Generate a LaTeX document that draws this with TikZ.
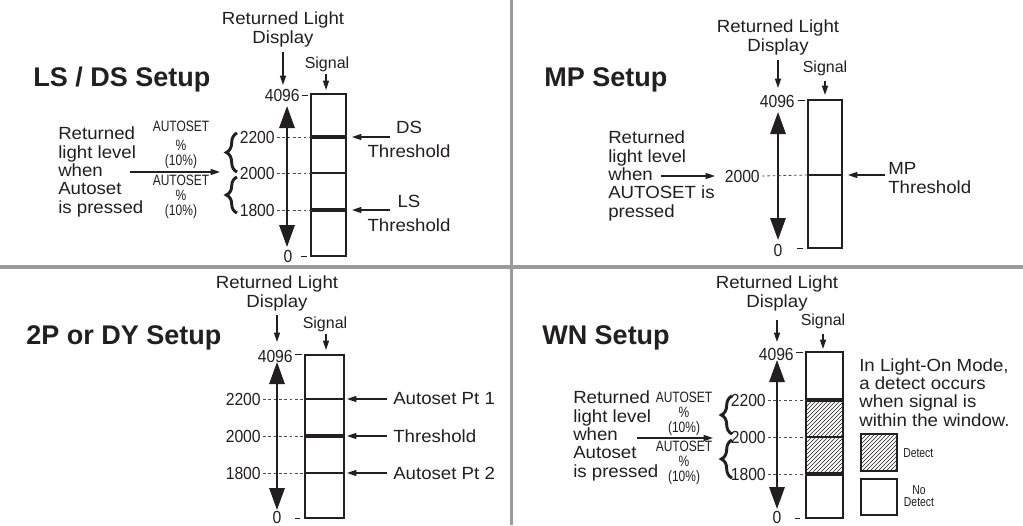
\documentclass[tikz,border=0pt]{standalone}
\usepackage{fontspec}
\setmainfont{Liberation Sans}
\newfontfamily\labf[FakeStretch=1.06]{Liberation Sans}
\newfontfamily\numf[FakeStretch=0.9]{Liberation Sans}
\newfontfamily\condf[FakeStretch=0.8]{Liberation Sans}
\usetikzlibrary{arrows.meta,decorations.pathreplacing,patterns}
\definecolor{ink}{RGB}{35,31,32}
\definecolor{divg}{RGB}{155,155,155}
\tikzset{
 lab/.style={font=\labf\fontsize{13.2pt}{13.7pt}\selectfont, inner sep=0pt, text=ink},
 sig/.style={font=\fontsize{12pt}{14pt}\selectfont, inner sep=0pt, text=ink},
 num/.style={font=\numf\fontsize{13.1pt}{15pt}\selectfont, inner sep=0pt, text=ink},
 cond/.style={font=\condf\fontsize{11.25pt}{11pt}\selectfont, inner sep=0pt, text=ink, align=center},
 smalltxt/.style={font=\condf\fontsize{9.75pt}{9pt}\selectfont, inner sep=0pt, text=ink, align=center},
 ttl/.style={font=\bfseries\fontsize{20.25pt}{24pt}\selectfont, inner sep=0pt, text=ink},
 sarrow/.style={draw=ink, line width=1pt, -{Triangle[length=7pt,width=4.5pt]}},
 barrow/.style={draw=ink, line width=1.5pt, {Triangle[length=16.5pt,width=11.5pt]}-{Triangle[length=16.5pt,width=11.5pt]}},
 sbox/.style={draw=ink, line width=1.5pt},
 thinl/.style={draw=ink, line width=1.1pt},
 thickl/.style={draw=ink, line width=3.7pt},
 dotl/.style={draw=ink!80, line width=0.6pt, dash pattern=on 2pt off 2pt},
 tickl/.style={draw=ink, line width=0.7pt},
 brc/.style={draw=ink, line width=2.2pt, decorate, decoration={brace, amplitude=8pt}},
 divl/.style={draw=divg}
}
\begin{document}
\begin{tikzpicture}[x=0.75pt,y=-0.75pt]
\fill[white] (0,0) rectangle (1023,525);
\useasboundingbox (0,0) rectangle (1023,525);
% dividers
\draw[divl, line width=3pt] (0,266.5) -- (1023,266.5);
\draw[divl, line width=2.25pt] (511.5,0) -- (511.5,525);

% ================= Q1 : LS / DS =================
\node[ttl, anchor=base west] (t1) at (33,86) {LS / DS Setup};
\node[lab, align=center, anchor=base] (rl1) at (283,43) {Returned Light\\Display};
\coordinate (rl1a) at (283,52); \coordinate (rl1b) at (283,85);
\draw[sarrow] (rl1a) -- (rl1b);
\node[sig, anchor=base] (sg1) at (327,68) {Signal};
\coordinate (sg1a) at (326,74); \coordinate (sg1b) at (326,90);
\draw[sarrow] (sg1a) -- (sg1b);
\draw[sbox] (311,94) rectangle (346,256);
\node[num, anchor=east] (hi1) at (300,95) {4096};
\draw[tickl] (302,95) -- (308,95);
\node[num] (lo1) at (288,256) {0};
\draw[tickl] (301,256) -- (307,256);
\coordinate (ax1t) at (287,106); \coordinate (ax1b) at (287,247);
\draw[barrow] (ax1b) -- (ax1t);
\foreach \v/\y in {2200/137,2000/173,1800/210}{
  \node[num, anchor=east] (l1-\v) at (275,\y) {\v};
  \draw[dotl] ([xshift=1.5pt]l1-\v.east) -- (311,\y);
}
\draw[thickl] (311,137) -- (346,137);
\draw[thinl] (311,173) -- (346,173);
\draw[thickl] (311,210) -- (346,210);
\coordinate (ds1a) at (390,137); \coordinate (ds1b) at (352,137);
\draw[sarrow] (ds1a) -- (ds1b);
\node[lab, align=center, anchor=base] (ds1) at (409,157) {DS\\[4.3pt]Threshold};
\coordinate (ls1a) at (390,210); \coordinate (ls1b) at (352,210);
\draw[sarrow] (ls1a) -- (ls1b);
\node[lab, align=center, anchor=base] (ls1) at (409,231) {LS\\[4.3pt]Threshold};
\node[lab, align=left, anchor=base west] (rt1) at (58,213) {Returned\\light level\\when\\Autoset\\is pressed};
\coordinate (rt1a) at (130,172); \coordinate (rt1b) at (220,172);
\draw[sarrow] (rt1a) -- (rt1b);
\node[cond, anchor=base] (as1a) at (181,165) {AUTOSET\\[3.2pt]\%\\(10\%)};
\node[cond, anchor=base] (as1b) at (181,215) {AUTOSET\\\%\\(10\%)};
\draw[brc] (237,172) -- (237,133);
\draw[brc] (237,213) -- (237,177);

% ================= Q2 : MP =================
\node[ttl, anchor=base west] (t2) at (544,86) {MP Setup};
\node[lab, align=center, anchor=base] (rl2) at (778,51) {Returned Light\\Display};
\coordinate (rl2a) at (778,60); \coordinate (rl2b) at (778,88);
\draw[sarrow] (rl2a) -- (rl2b);
\node[sig, anchor=base] (sg2) at (825,72) {Signal};
\coordinate (sg2a) at (825,81); \coordinate (sg2b) at (825,95);
\draw[sarrow] (sg2a) -- (sg2b);
\draw[sbox] (808,100) rectangle (842,248);
\node[num, anchor=east] (hi2) at (795,101) {4096};
\draw[tickl] (798,100) -- (805,100);
\node[num] (lo2) at (778,250) {0};
\draw[tickl] (797,248) -- (803,248);
\coordinate (ax2t) at (778,112); \coordinate (ax2b) at (778,240);
\draw[barrow] (ax2b) -- (ax2t);
\node[num, anchor=east] (l2-2000) at (760,176) {2000};
\draw[dotl] ([xshift=1.5pt]l2-2000.east) -- (808,175);
\draw[thinl] (808,175) -- (842,175);
\coordinate (mp2a) at (885,175); \coordinate (mp2b) at (848,175);
\draw[sarrow] (mp2a) -- (mp2b);
\node[lab, align=left, anchor=base west] (mp2) at (888,193) {MP\\Threshold};
\node[lab, align=left, anchor=base west] (rt2) at (608,217) {Returned\\light level\\when\\AUTOSET is\\pressed};
\coordinate (rt2a) at (661,176); \coordinate (rt2b) at (715,176);
\draw[sarrow] (rt2a) -- (rt2b);

% ================= Q3 : 2P / DY =================
\node[ttl, anchor=base west] (t3) at (26,344) {2P or DY Setup};
\node[lab, align=center, anchor=base] (rl3) at (277,307) {Returned Light\\Display};
\coordinate (rl3a) at (277,315); \coordinate (rl3b) at (277,342);
\draw[sarrow] (rl3a) -- (rl3b);
\node[sig, anchor=base] (sg3) at (325,328) {Signal};
\coordinate (sg3a) at (326,334); \coordinate (sg3b) at (326,350);
\draw[sarrow] (sg3a) -- (sg3b);
\draw[sbox] (305,355) rectangle (344,518);
\node[num, anchor=east] (hi3) at (293,356) {4096};
\draw[tickl] (295,354) -- (302,354);
\node[num] (lo3) at (277,517) {0};
\draw[tickl] (295,518) -- (300,518);
\coordinate (ax3t) at (277,362); \coordinate (ax3b) at (277,510);
\draw[barrow] (ax3b) -- (ax3t);
\foreach \v/\y in {2200/399,2000/436,1800/473}{
  \node[num, anchor=east] (l3-\v) at (261,\y) {\v};
  \draw[dotl] ([xshift=1.5pt]l3-\v.east) -- (305,\y);
}
\draw[thinl] (305,399) -- (344,399);
\draw[thickl] (305,436) -- (344,436);
\draw[thinl] (305,473) -- (344,473);
\foreach \n/\y/\t in {p1/399/Autoset Pt 1, th/436/Threshold, p2/473/Autoset Pt 2}{
  \coordinate (\n3a) at (387,\y); \coordinate (\n3b) at (347,\y);
  \draw[sarrow] (\n3a) -- (\n3b);
  \node[lab, anchor=west] (\n3) at (393,\y) {\t};
}

% ================= Q4 : WN =================
\node[ttl, anchor=base west] (t4) at (542,344) {WN Setup};
\node[lab, align=center, anchor=base] (rl4) at (777,307) {Returned Light\\Display};
\coordinate (rl4a) at (777,320); \coordinate (rl4b) at (777,342);
\draw[sarrow] (rl4a) -- (rl4b);
\node[sig, anchor=base] (sg4) at (823,325) {Signal};
\coordinate (sg4a) at (823,334); \coordinate (sg4b) at (823,349);
\draw[sarrow] (sg4a) -- (sg4b);
\fill[pattern=north east lines, pattern color=ink] (806,400) rectangle (843,474);
\draw[sbox] (806,352) rectangle (843,518);
\node[num, anchor=east] (hi4) at (794,354) {4096};
\draw[tickl] (796,352) -- (803,352);
\node[num] (lo4) at (777,517) {0};
\draw[tickl] (795,518) -- (800,518);
\coordinate (ax4t) at (777,360); \coordinate (ax4b) at (777,509);
\draw[barrow] (ax4b) -- (ax4t);
\foreach \v/\y in {2200/400,2000/437,1800/474}{
  \node[num, anchor=east] (l4-\v) at (766,\y) {\v};
  \draw[dotl] ([xshift=1.5pt]l4-\v.east) -- (806,\y);
}
\draw[thickl] (806,400) -- (843,400);
\draw[thinl] (806,437) -- (843,437);
\draw[thickl] (806,474) -- (843,474);
\node[lab, align=left, anchor=base west] (rt4) at (573,477) {Returned\\light level\\when\\Autoset\\is pressed};
\coordinate (rt4a) at (637,438); \coordinate (rt4b) at (713,438);
\draw[sarrow] (rt4a) -- (rt4b);
\node[cond, anchor=base] (as4a) at (684,432) {AUTOSET\\\%\\(10\%)};
\node[cond, anchor=base] (as4b) at (684,481) {AUTOSET\\\%\\(10\%)};
\draw[brc] (732,434) -- (732,396);
\draw[brc] (732,478) -- (732,440);
\node[lab, align=left, anchor=base west] (info4) at (859,426) {In Light-On Mode,\\a detect occurs\\when signal is\\within the window.};
\draw[draw=ink, line width=1pt, pattern=north east lines, pattern color=ink] (861,434) rectangle (897,471);
\node[smalltxt, anchor=west] (lg1) at (903,453) {Detect};
\draw[draw=ink, line width=1pt] (861,479) rectangle (897,515);
\node[smalltxt] (lg2) at (919,496) {No\\Detect};
\end{tikzpicture}
\end{document}
